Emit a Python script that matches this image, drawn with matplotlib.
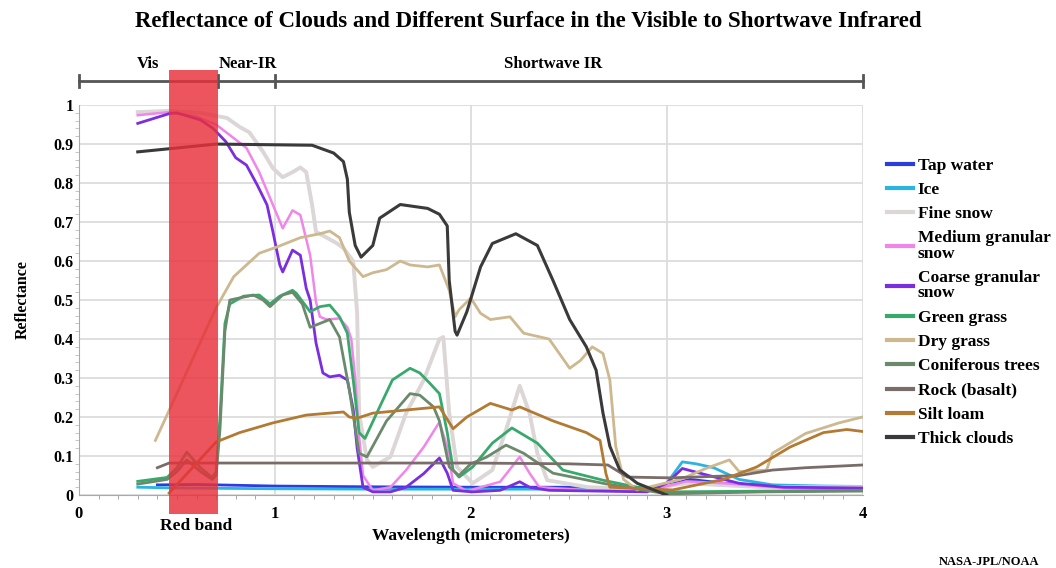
import matplotlib
matplotlib.use("Agg")
import matplotlib.pyplot as plt
from matplotlib.patches import Rectangle
from matplotlib.ticker import MultipleLocator

plt.rcParams['font.family'] = ['Liberation Serif', 'DejaVu Serif']
plt.rcParams['font.weight'] = 'bold'

# ---------------- data ----------------
tap_x = [0.40, 0.6, 0.8, 1.0, 1.5, 2.0, 2.5, 2.9, 3.0, 3.12, 3.3, 3.6, 4.0]
tap_y = [0.026, 0.027, 0.025, 0.023, 0.021, 0.02, 0.02, 0.018, 0.025, 0.04, 0.03, 0.022, 0.02]

ice_x = [0.30, 0.5, 1.0, 1.5, 2.0, 2.5, 2.9, 3.0, 3.08, 3.15, 3.24, 3.37, 3.54, 3.8, 4.0]
ice_y = [0.02, 0.018, 0.016, 0.015, 0.015, 0.015, 0.015, 0.03, 0.085, 0.08, 0.07, 0.04, 0.026, 0.023, 0.022]

fine_x = [0.30, 0.46, 0.62, 0.755, 0.82, 0.87, 0.94, 0.99, 1.04, 1.09, 1.13, 1.16, 1.19, 1.21,
          1.265, 1.315, 1.35, 1.40, 1.42, 1.43, 1.47, 1.50, 1.59, 1.67, 1.76, 1.84, 1.86, 1.89,
          1.93, 2.01, 2.11, 2.18, 2.25, 2.30, 2.34, 2.39, 2.6, 2.9, 3.1, 3.5, 4.0]
fine_y = [0.982, 0.985, 0.98, 0.967, 0.944, 0.93, 0.88, 0.838, 0.815, 0.828, 0.84, 0.828, 0.744, 0.675,
          0.66, 0.646, 0.633, 0.60, 0.466, 0.21, 0.09, 0.072, 0.098, 0.21, 0.295, 0.40, 0.405, 0.21,
          0.072, 0.03, 0.064, 0.167, 0.28, 0.21, 0.107, 0.038, 0.02, 0.015, 0.03, 0.02, 0.02]

med_x = [0.30, 0.46, 0.60, 0.70, 0.77, 0.855, 0.92, 0.99, 1.04, 1.09, 1.13, 1.18, 1.21, 1.23, 1.265,
         1.33, 1.37, 1.39, 1.41, 1.43, 1.45, 1.50, 1.59, 1.67, 1.76, 1.84, 1.88, 1.91, 1.98, 2.15,
         2.25, 2.30, 2.35, 2.6, 2.9, 3.1, 3.3, 3.6, 4.0]
med_y = [0.974, 0.982, 0.97, 0.95, 0.923, 0.89, 0.828, 0.744, 0.684, 0.73, 0.718, 0.615, 0.495, 0.457, 0.45,
         0.453, 0.43, 0.40, 0.30, 0.15, 0.05, 0.012, 0.02, 0.064, 0.123, 0.187, 0.123, 0.03, 0.01, 0.034,
         0.098, 0.056, 0.02, 0.012, 0.01, 0.035, 0.03, 0.018, 0.015]

coarse_x = [0.30, 0.46, 0.50, 0.62, 0.685, 0.75, 0.80, 0.855, 0.91, 0.96, 0.99, 1.025, 1.04, 1.09, 1.13,
            1.16, 1.18, 1.21, 1.245, 1.28, 1.33, 1.37, 1.40, 1.42, 1.45, 1.50, 1.59, 1.67, 1.76, 1.84,
            1.88, 1.91, 2.01, 2.15, 2.25, 2.30, 2.4, 2.9, 3.0, 3.08, 3.2, 3.37, 3.6, 4.0]
coarse_y = [0.953, 0.978, 0.98, 0.962, 0.94, 0.906, 0.865, 0.846, 0.795, 0.744, 0.675, 0.59, 0.572, 0.628, 0.615,
            0.53, 0.50, 0.39, 0.313, 0.303, 0.307, 0.295, 0.22, 0.12, 0.02, 0.008, 0.008, 0.02, 0.055, 0.095,
            0.056, 0.012, 0.008, 0.012, 0.034, 0.02, 0.012, 0.008, 0.03, 0.068, 0.052, 0.03, 0.02, 0.018]

green_x = [0.30, 0.45, 0.50, 0.55, 0.62, 0.68, 0.70, 0.72, 0.745, 0.77, 0.84, 0.92, 0.975, 1.025, 1.09, 1.11,
           1.18, 1.23, 1.28, 1.33, 1.37, 1.40, 1.43, 1.46, 1.535, 1.60, 1.69, 1.74, 1.79, 1.84, 1.88,
           1.91, 1.94, 2.01, 2.11, 2.21, 2.34, 2.47, 2.675, 2.85, 3.0, 3.5, 4.0]
green_y = [0.035, 0.045, 0.07, 0.11, 0.07, 0.045, 0.06, 0.2, 0.44, 0.49, 0.51, 0.513, 0.49, 0.51, 0.525, 0.517,
           0.47, 0.483, 0.487, 0.457, 0.415, 0.295, 0.16, 0.145, 0.226, 0.295, 0.325, 0.313, 0.287, 0.26, 0.16,
           0.064, 0.046, 0.072, 0.133, 0.172, 0.133, 0.064, 0.038, 0.02, 0.008, 0.01, 0.012]

dry_x = [0.39, 0.70, 0.79, 0.92, 1.01, 1.13, 1.23, 1.28, 1.33, 1.38, 1.45, 1.50, 1.57, 1.64, 1.69, 1.78,
         1.84, 1.89, 1.92, 1.94, 2.0, 2.05, 2.10, 2.20, 2.27, 2.40, 2.505, 2.56, 2.62, 2.675, 2.71, 2.74,
         2.78, 2.85, 3.07, 3.2, 3.32, 3.37, 3.51, 3.54, 3.71, 3.88, 4.0]
dry_y = [0.14, 0.48, 0.56, 0.62, 0.636, 0.66, 0.67, 0.677, 0.66, 0.60, 0.56, 0.57, 0.578, 0.60, 0.59, 0.585,
         0.59, 0.525, 0.457, 0.475, 0.505, 0.466, 0.45, 0.457, 0.415, 0.40, 0.325, 0.345, 0.38, 0.363, 0.295, 0.125,
         0.04, 0.013, 0.04, 0.068, 0.09, 0.06, 0.064, 0.107, 0.158, 0.185, 0.20]

conif_x = [0.30, 0.45, 0.50, 0.55, 0.62, 0.68, 0.70, 0.72, 0.745, 0.77, 0.89, 0.94, 0.975, 1.04, 1.09, 1.14,
           1.18, 1.23, 1.28, 1.33, 1.38, 1.43, 1.47, 1.57, 1.69, 1.74, 1.81, 1.84, 1.89, 1.94, 2.0, 2.08,
           2.18, 2.27, 2.42, 2.675, 3.0, 3.5, 4.0]
conif_y = [0.028, 0.04, 0.06, 0.09, 0.06, 0.04, 0.05, 0.17, 0.42, 0.50, 0.513, 0.50, 0.483, 0.513, 0.52, 0.49,
           0.43, 0.44, 0.45, 0.405, 0.27, 0.107, 0.098, 0.19, 0.26, 0.256, 0.226, 0.19, 0.072, 0.05, 0.08, 0.097,
           0.128, 0.107, 0.056, 0.03, 0.003, 0.008, 0.01]

rock_x = [0.40, 0.46, 1.0, 1.5, 2.0, 2.5, 2.7, 2.8, 3.02, 3.37, 3.54, 3.71, 4.0]
rock_y = [0.07, 0.082, 0.082, 0.082, 0.082, 0.08, 0.077, 0.046, 0.044, 0.05, 0.064, 0.07, 0.077]

silt_x = [0.46, 0.70, 0.82, 0.99, 1.16, 1.35, 1.38, 1.42, 1.50, 1.67, 1.84, 1.91, 1.98, 2.10, 2.21, 2.25,
          2.42, 2.59, 2.66, 2.69, 2.71, 3.03, 3.29, 3.46, 3.63, 3.80, 3.92, 4.0]
silt_y = [0.005, 0.136, 0.16, 0.185, 0.205, 0.213, 0.20, 0.197, 0.21, 0.218, 0.226, 0.17, 0.20, 0.235, 0.218, 0.226,
          0.19, 0.16, 0.14, 0.055, 0.02, 0.013, 0.04, 0.072, 0.123, 0.16, 0.168, 0.163]

cloud_x = [0.30, 0.70, 1.19, 1.30, 1.35, 1.37, 1.38, 1.41, 1.44, 1.50, 1.535, 1.64, 1.78, 1.84, 1.88, 1.89,
           1.92, 1.93, 1.98, 2.05, 2.11, 2.23, 2.34, 2.42, 2.505, 2.59, 2.64, 2.675, 2.71, 2.76, 2.85, 3.0]
cloud_y = [0.88, 0.90, 0.897, 0.877, 0.855, 0.81, 0.725, 0.64, 0.61, 0.64, 0.71, 0.745, 0.735, 0.72, 0.69, 0.55,
           0.42, 0.41, 0.47, 0.585, 0.645, 0.67, 0.64, 0.55, 0.45, 0.38, 0.32, 0.21, 0.125, 0.065, 0.03, 0.0]

series = [
    ("Tap water", tap_x, tap_y, "#2a3de0", 2.0),
    ("Ice", ice_x, ice_y, "#2ab4df", 2.0),
    ("Fine snow", fine_x, fine_y, "#dcd6d6", 2.8),
    ("Medium granular\nsnow", med_x, med_y, "#f085ea", 1.8),
    ("Coarse granular\nsnow", coarse_x, coarse_y, "#7a2ee0", 2.0),
    ("Green grass", green_x, green_y, "#38a96c", 2.0),
    ("Dry grass", dry_x, dry_y, "#cdb88f", 2.0),
    ("Coniferous trees", conif_x, conif_y, "#6a8a6c", 2.0),
    ("Rock (basalt)", rock_x, rock_y, "#7a6c68", 2.0),
    ("Silt loam", silt_x, silt_y, "#b27a32", 2.0),
    ("Thick clouds", cloud_x, cloud_y, "#3a3a3a", 2.2),
]

region_names = ["Vis", "Near-IR", "Shortwave IR"]
region_label_x = [0.35, 0.86, 2.42]
region_bounds = [0.0, 0.71, 1.0, 4.0]
red_band = (0.46, 0.71)

# ---------------- figure ----------------
fig = plt.figure(figsize=(10.56, 5.68), dpi=100)
ax = fig.add_axes([0.0748, 0.1285, 0.742, 0.6865])

for name, xs, ys, col, lw in series:
    ax.plot(xs, ys, color=col, lw=lw, label=name, solid_joinstyle='round', zorder=3)

ax.set_xlim(0, 4)
ax.set_ylim(0, 1)
ax.xaxis.set_major_locator(MultipleLocator(1))
ax.xaxis.set_minor_locator(MultipleLocator(0.1))
ax.yaxis.set_minor_locator(MultipleLocator(0.02))
ax.set_yticks([i / 10 for i in range(11)])
ax.set_yticklabels(["0", "0.1", "0.2", "0.3", "0.4", "0.5", "0.6", "0.7", "0.8", "0.9", "1"])
ax.grid(True, which='major', color='#dcdcdc', lw=1.3, zorder=0)
ax.tick_params(axis='x', which='major', length=0, pad=8, labelsize=12)
ax.tick_params(axis='x', which='minor', length=3, color='#999999')
ax.tick_params(axis='y', which='major', length=0, pad=4, labelsize=11.5)
ax.tick_params(axis='y', which='minor', length=3, color='#bbbbbb')
for s in ['top', 'right']:
    ax.spines[s].set_visible(False)
ax.spines['left'].set_color('#aaaaaa')
ax.spines['bottom'].set_color('#aaaaaa')

ax.set_xlabel("Wavelength (micrometers)", fontsize=12.5, fontweight='bold', labelpad=4.5)
ax.set_ylabel("Reflectance", fontsize=11.5, fontweight='bold', labelpad=16)

# region scale bar above the plot
bar_y = 1.0615
ax.plot([region_bounds[0], region_bounds[-1]], [bar_y, bar_y], color='#555555', lw=2, clip_on=False, zorder=4)
for b in region_bounds:
    ax.plot([b, b], [bar_y - 0.016, bar_y + 0.016], color='#555555', lw=2, clip_on=False, zorder=4)
for nm, lx in zip(region_names, region_label_x):
    ax.text(lx, 1.105, nm, ha='center', va='center', fontsize=12, fontweight='bold', clip_on=False)

# red band
ax.add_patch(Rectangle((red_band[0], -0.049), red_band[1] - red_band[0], 1.139,
                       facecolor='#e8303a', alpha=0.82, edgecolor='none', clip_on=False, zorder=6))
ax.text(0.60, -0.08, "Red band", ha='center', va='center', fontsize=12.5, fontweight='bold',
        transform=ax.transData, clip_on=False)

fig.suptitle("Reflectance of Clouds and Different Surface in the Visible to Shortwave Infrared",
             x=0.5, y=0.98, fontsize=16.5, fontweight='bold')

leg = ax.legend(loc='upper left', bbox_to_anchor=(0.833, 0.735), bbox_transform=fig.transFigure,
                frameon=False, fontsize=12.5, handlelength=1.5, handletextpad=0.3,
                labelspacing=0.47, borderaxespad=0)
for t in leg.get_texts():
    t.set_linespacing(0.95)
for h in leg.get_lines():
    h.set_linewidth(3)

fig.text(0.937, 0.011, "NASA-JPL/NOAA", ha='center', va='center', fontsize=9, fontweight='bold')

fig.savefig("out.png", dpi=100)
